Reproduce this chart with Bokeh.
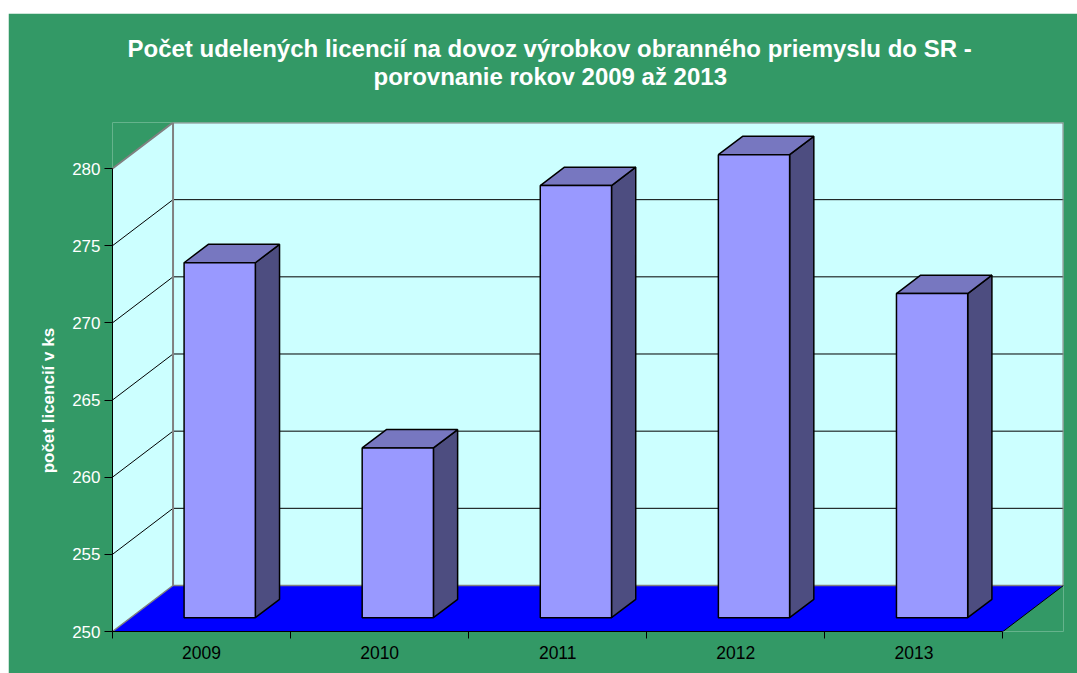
from bokeh.plotting import figure
from bokeh.models import Range1d, FixedTicker, Title, Spacer
from bokeh.layouts import column, row
from bokeh.embed import file_html
from bokeh.resources import INLINE

# ---- data ----
years = ["2009", "2010", "2011", "2012", "2013"]
licences = [273, 261, 278, 280, 271]
y_ticks = [250, 255, 260, 265, 270, 275, 280]
title_lines = ["Počet udelených licencií na dovoz výrobkov obranného priemyslu do SR -",
               "porovnanie rokov 2009 až 2013"]
y_label = "počet licencií v ks"

# ---- style / projection ----
GREEN = "#339966"
WALL = "#CCFFFF"
FLOOR = "#0000FF"
BAR_FRONT = "#9999FF"
BAR_TOP = "#7777C0"
BAR_SIDE = "#4D4D80"
FONT = "Liberation Sans"

N = len(years)
Y0, Y1 = y_ticks[0], y_ticks[-1]
DX = 60.5 / 178.0      # depth shift in category units
DY = 46.0 / 15.43      # depth shift in value units
BAR_X0, BAR_X1 = 0.30, 0.70
ZF, ZB = 0.30, 0.70


def P(x, y, z):
    return x + z * DX, y + z * DY


p = figure(frame_width=951, frame_height=509,
           x_range=Range1d(0, N + DX), y_range=Range1d(Y0, Y1 + DY),
           output_backend="svg", toolbar_location=None,
           min_border_left=104, min_border_right=14,
           min_border_top=109, min_border_bottom=42)
p.background_fill_color = GREEN
p.border_fill_color = GREEN
p.outline_line_color = None
p.grid.visible = False

# back wall
p.quad(left=DX, right=N + DX, bottom=Y0 + DY, top=Y1 + DY,
       fill_color=WALL, line_color=None)
# side wall
p.patch([0, DX, DX, 0], [Y1, Y1 + DY, Y0 + DY, Y0], fill_color=WALL, line_color=None)

# grid lines
inner = y_ticks[1:-1]
p.segment(x0=[DX] * len(inner), y0=[t + DY for t in inner],
          x1=[N + DX] * len(inner), y1=[t + DY for t in inner],
          line_color="black", line_width=1)
p.segment(x0=[0] * len(inner), y0=inner,
          x1=[DX] * len(inner), y1=[t + DY for t in inner],
          line_color="black", line_width=1)

# floor
p.patch([0, DX, N + DX, N], [Y0, Y0 + DY, Y0 + DY, Y0], fill_color=FLOOR, line_color=None)

# wall edges (grey)
p.line([0, DX, N + DX, N + DX], [Y1, Y1 + DY, Y1 + DY, Y0 + DY],
       line_color="#808080", line_width=2)
p.line([DX, DX], [Y0 + DY, Y1 + DY], line_color="#808080", line_width=2)
p.line([0, DX, N + DX], [Y0, Y0 + DY, Y0 + DY], line_color="#808080", line_width=1.5)
p.line([N, N + DX], [Y0, Y0 + DY], line_color="black", line_width=1)

# bars
fx, fy, tx, ty, sx, sy = [], [], [], [], [], []
for i, v in enumerate(licences):
    a, b = i + BAR_X0, i + BAR_X1
    pts = [P(a, Y0, ZF), P(b, Y0, ZF), P(b, v, ZF), P(a, v, ZF)]
    fx.append([q[0] for q in pts]); fy.append([q[1] for q in pts])
    pts = [P(a, v, ZF), P(b, v, ZF), P(b, v, ZB), P(a, v, ZB)]
    tx.append([q[0] for q in pts]); ty.append([q[1] for q in pts])
    pts = [P(b, Y0, ZF), P(b, Y0, ZB), P(b, v, ZB), P(b, v, ZF)]
    sx.append([q[0] for q in pts]); sy.append([q[1] for q in pts])
p.patches(sx, sy, fill_color=BAR_SIDE, line_color="black", line_width=1.5)
p.patches(tx, ty, fill_color=BAR_TOP, line_color="black", line_width=1.5)
p.patches(fx, fy, fill_color=BAR_FRONT, line_color="black", line_width=1.5)

# x axis
xa = p.xaxis[0]
xa.bounds = (0, N)
xa.ticker = FixedTicker(ticks=[i + 0.5 for i in range(N)], minor_ticks=list(range(N + 1)))
xa.major_label_overrides = {i + 0.5: y for i, y in enumerate(years)}
xa.major_tick_out = 0
xa.major_tick_in = 0
xa.minor_tick_out = 7
xa.minor_tick_in = 0
xa.minor_tick_line_color = "black"
xa.axis_line_color = "black"
xa.major_label_text_font = FONT
xa.major_label_text_font_size = "17.5px"
xa.major_label_text_color = "black"
xa.major_label_standoff = 7

# y axis
ya = p.yaxis[0]
ya.bounds = (Y0, Y1)
ya.ticker = FixedTicker(ticks=y_ticks, minor_ticks=[])
ya.major_tick_out = 8
ya.major_tick_in = 0
ya.major_tick_line_color = "black"
ya.axis_line_color = "black"
ya.major_label_text_font = FONT
ya.major_label_text_font_size = "17px"
ya.major_label_text_color = "white"
ya.major_label_standoff = 4
# trailing no-break spaces move the label's centre down onto the value-axis span
ya.axis_label = y_label + "\u00a0" * 10
ya.axis_label_text_font = FONT
ya.axis_label_text_font_size = "17px"
ya.axis_label_text_font_style = "bold"
ya.axis_label_text_color = "white"
ya.axis_label_standoff = 11

# title: blank spacer nearest the frame, then line 2, then line 1
p.add_layout(Title(text=" ", text_font_size="1px", standoff=30), "above")
p.add_layout(Title(text=title_lines[1], align="left", text_font=FONT,
                   text_font_size="24px", text_font_style="bold",
                   text_color="white", standoff=-1, offset=261), "above")
p.add_layout(Title(text=title_lines[0], align="left", text_font=FONT,
                   text_font_size="24px", text_font_style="bold",
                   text_color="white", standoff=-1, offset=15), "above")

layout = row(Spacer(width=8, height=673),
             column(Spacer(width=1069, height=13), p))
open("out.html", "w").write(file_html(layout, INLINE))
